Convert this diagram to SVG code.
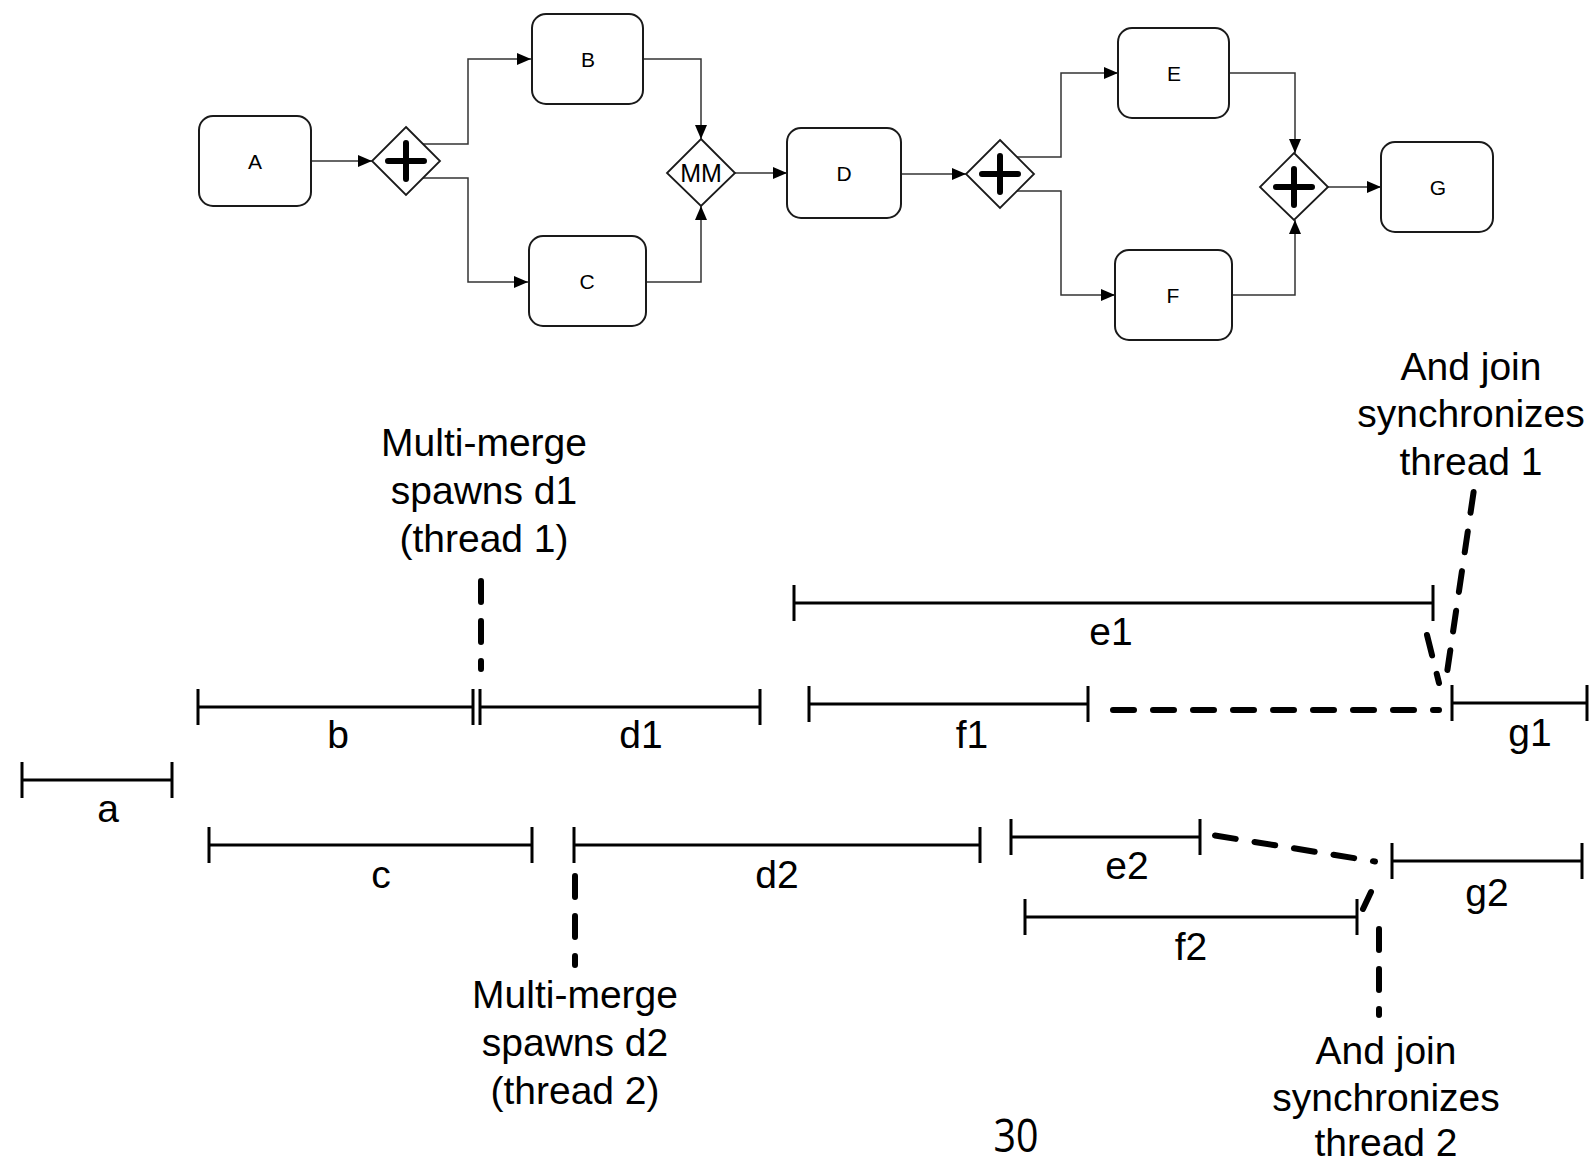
<svg xmlns="http://www.w3.org/2000/svg" width="1596" height="1163" viewBox="0 0 1596 1163">
<style>
.box{fill:#fff;stroke:#1a1a1a;stroke-width:2}
.gw{fill:#fff;stroke:#1a1a1a;stroke-width:1.8}
.plus{stroke:#000;stroke-width:6;stroke-linecap:round;fill:none}
.conn{fill:none;stroke:#333;stroke-width:1.5}
.lbl{font-family:"Liberation Sans",Arial,sans-serif;font-size:21px;text-anchor:middle;dominant-baseline:central;fill:#000}
.mm{font-family:"Liberation Sans",Arial,sans-serif;font-size:25px;text-anchor:middle;dominant-baseline:central;fill:#000}
.bar{stroke:#000;stroke-width:3;fill:none}
.dash{stroke:#000;stroke-width:6;stroke-dasharray:21 19;stroke-linecap:round;fill:none}
.big{font-family:"Liberation Sans",Arial,sans-serif;font-size:39px;text-anchor:middle;fill:#000}
.num{font-family:"Open Sans","Noto Sans",sans-serif;font-size:46px;font-weight:500;text-anchor:middle;fill:#000}
</style>
<defs>
<marker id="arr" markerUnits="userSpaceOnUse" markerWidth="14" markerHeight="12" refX="14" refY="6" orient="auto">
<path d="M0,0 L14,6 L0,12 z" fill="#000"/>
</marker>
</defs>
<rect width="1596" height="1163" fill="#fff"/>

<g id="connectors">
<path class="conn" d="M311,161 L372,161" marker-end="url(#arr)"/>
<path class="conn" d="M423,144 L468,144 L468,59 L531,59" marker-end="url(#arr)"/>
<path class="conn" d="M423,178 L468,178 L468,282 L528,282" marker-end="url(#arr)"/>
<path class="conn" d="M643,59 L701,59 L701,139" marker-end="url(#arr)"/>
<path class="conn" d="M646,282 L701,282 L701,206" marker-end="url(#arr)"/>
<path class="conn" d="M735,173 L787,173" marker-end="url(#arr)"/>
<path class="conn" d="M901,174 L966,174" marker-end="url(#arr)"/>
<path class="conn" d="M1017,157 L1061,157 L1061,73 L1118,73" marker-end="url(#arr)"/>
<path class="conn" d="M1017,191 L1061,191 L1061,295 L1115,295" marker-end="url(#arr)"/>
<path class="conn" d="M1229,73 L1295,73 L1295,153" marker-end="url(#arr)"/>
<path class="conn" d="M1232,295 L1295,295 L1295,220" marker-end="url(#arr)"/>
<path class="conn" d="M1328,187 L1381,187" marker-end="url(#arr)"/>
</g>

<g id="node-A"><rect class="box" x="199" y="116" width="112" height="90" rx="14"/><text class="lbl" x="255" y="161">A</text></g>
<g id="node-gw1"><path class="gw" d="M406,127 L440,161 L406,195 L372,161 z"/><path class="plus" d="M388,161 L424,161 M406,143 L406,179"/></g>
<g id="node-B"><rect class="box" x="532" y="14" width="111" height="90" rx="14"/><text class="lbl" x="588" y="59">B</text></g>
<g id="node-C"><rect class="box" x="529" y="236" width="117" height="90" rx="14"/><text class="lbl" x="587" y="281">C</text></g>
<g id="node-MM"><path class="gw" d="M701,139 L735,173 L701,206 L667,173 z"/><text class="mm" x="701" y="173">MM</text></g>
<g id="node-D"><rect class="box" x="787" y="128" width="114" height="90" rx="14"/><text class="lbl" x="844" y="173">D</text></g>
<g id="node-gw2"><path class="gw" d="M1000,140 L1034,174 L1000,208 L966,174 z"/><path class="plus" d="M982,174 L1018,174 M1000,156 L1000,192"/></g>
<g id="node-E"><rect class="box" x="1118" y="28" width="111" height="90" rx="14"/><text class="lbl" x="1174" y="73">E</text></g>
<g id="node-F"><rect class="box" x="1115" y="250" width="117" height="90" rx="14"/><text class="lbl" x="1173" y="295">F</text></g>
<g id="node-gw3"><path class="gw" d="M1294,153 L1328,187 L1294,220 L1260,187 z"/><path class="plus" d="M1276,187 L1312,187 M1294,169 L1294,205"/></g>
<g id="node-G"><rect class="box" x="1381" y="142" width="112" height="90" rx="14"/><text class="lbl" x="1438" y="187">G</text></g>

<g id="timeline-bars">
<path class="bar" d="M22,780 H172 M22,762 V798 M172,762 V798"/>
<path class="bar" d="M198,707 H473 M198,689 V725 M473,689 V725"/>
<path class="bar" d="M480,707 H760 M480,689 V725 M760,689 V725"/>
<path class="bar" d="M209,845 H532 M209,827 V863 M532,827 V863"/>
<path class="bar" d="M574,845 H980 M574,827 V863 M980,827 V863"/>
<path class="bar" d="M794,603 H1433 M794,585 V621 M1433,585 V621"/>
<path class="bar" d="M809,704 H1088 M809,686 V722 M1088,686 V722"/>
<path class="bar" d="M1452,703 H1587 M1452,685 V721 M1587,685 V721"/>
<path class="bar" d="M1011,837 H1200 M1011,819 V855 M1200,819 V855"/>
<path class="bar" d="M1025,917 H1357 M1025,899 V935 M1357,899 V935"/>
<path class="bar" d="M1392,861 H1582 M1392,843 V879 M1582,843 V879"/>
</g>

<g id="timeline-labels">
<text class="big" x="108" y="822">a</text>
<text class="big" x="338" y="748">b</text>
<text class="big" x="641" y="748">d1</text>
<text class="big" x="381" y="888">c</text>
<text class="big" x="777" y="888">d2</text>
<text class="big" x="1111" y="645">e1</text>
<text class="big" x="972" y="748">f1</text>
<text class="big" x="1530" y="746">g1</text>
<text class="big" x="1127" y="879">e2</text>
<text class="big" x="1191" y="960">f2</text>
<text class="big" x="1487" y="906">g2</text>
</g>

<g id="dashed-links">
<path class="dash" d="M481,581 L481,669"/>
<path class="dash" d="M575,876 L575,965"/>
<path class="dash" d="M1113,710 L1439,710"/>
<path class="dash" d="M1427,635 L1439,683"/>
<path class="dash" d="M1473.6,492 L1447.4,670"/>
<path class="dash" d="M1215,835.5 L1375,861.5"/>
<path class="dash" d="M1371,892 L1363,909"/>
<path class="dash" d="M1379,929 L1379,1015"/>
</g>

<g id="annotations">
<text class="big" x="484"><tspan x="484" y="456">Multi-merge</tspan><tspan x="484" y="504">spawns d1</tspan><tspan x="484" y="552">(thread 1)</tspan></text>
<text class="big" x="575"><tspan x="575" y="1008">Multi-merge</tspan><tspan x="575" y="1056">spawns d2</tspan><tspan x="575" y="1104">(thread 2)</tspan></text>
<text class="big" x="1471"><tspan x="1471" y="380">And join</tspan><tspan x="1471" y="427">synchronizes</tspan><tspan x="1471" y="475">thread 1</tspan></text>
<text class="big" x="1386"><tspan x="1386" y="1064">And join</tspan><tspan x="1386" y="1111">synchronizes</tspan><tspan x="1386" y="1156">thread 2</tspan></text>
<text class="num" x="1016" y="1152" textLength="45" lengthAdjust="spacingAndGlyphs">30</text>
</g>
</svg>
